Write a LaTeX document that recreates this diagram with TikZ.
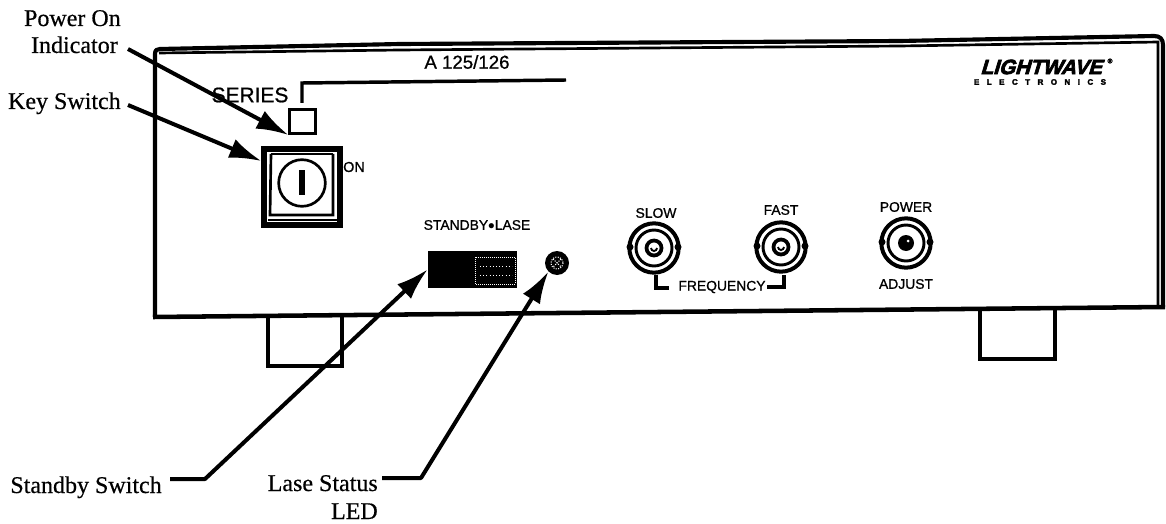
\documentclass[tikz,border=0pt]{standalone}
\usepackage{fontspec}
\setmainfont[FakeBold=0.5]{Liberation Serif}
\setsansfont[FakeBold=0.9]{Liberation Sans}
\newfontfamily\logofont[FakeBold=3.5,FakeSlant=0.3]{Liberation Sans Bold}
\newfontfamily\logosub[FakeBold=3]{Liberation Sans Bold}
\usetikzlibrary{arrows.meta}
\tikzset{
  callout/.style={font=\rmfamily\fontsize{18}{20}\selectfont,inner sep=0pt,align=right},
  panel/.style={font=\sffamily\fontsize{10.4}{12}\selectfont,inner sep=0pt},
  leader/.style={line width=3pt,-{Latex[length=24pt,width=15pt]},line join=round},
  heavy/.style={line width=3.1pt,line join=round},
  thin line/.style={line width=2pt},
  footbox/.style={line width=2.6pt},
}
\begin{document}
\begin{tikzpicture}[x=0.75pt,y=-0.75pt]
\useasboundingbox (0,0) rectangle (1166,524);
% feet
\draw[footbox] (268,317) -- (268,366) -- (342,366) -- (342,316);
\draw[footbox] (980,309) -- (980,359) -- (1055,359) -- (1055,308);
% case
\draw[heavy] (155,317) -- (155,54) .. controls (155,50) and (157,49) .. (160,49) -- (400,44) -- (900,41) -- (1154,36) .. controls (1160,36) and (1163,39) .. (1163,45) -- (1163,307);
\draw[line width=3.4pt] (153,317) -- (1165,307);
\draw[thin line] (159,53) -- (400,50) -- (900,46) -- (1158,42) -- (1158,306);
% series
\node[panel,font=\sffamily\fontsize{15.7}{17}\selectfont] (series) at (250,95) {SERIES};
\node[panel,font=\sffamily\fontsize{14}{16}\selectfont] (model) at (467,62) {A 125/126};
\draw[line width=2.6pt] (302,103) -- (302,83) -- (566,80);
\node[draw,line width=2.2pt,minimum width=19pt,minimum height=18pt,inner sep=0pt] (ind) at (302.5,121.5) {};
% key switch
\node[draw,line width=4pt,minimum width=57pt,minimum height=57pt,inner sep=0pt] (key) at (302,187) {};
\draw[line width=2pt] (271,154) -- (270,215) -- (333,215) -- (333,154);
\draw[line width=2pt] (271,154) -- (333,154);
\draw[line width=1pt] (268,220) -- (337,220);
\node[draw,circle,fill=white,line width=2pt,minimum size=35pt,inner sep=0pt] (keyc) at (302,183) {};
\draw[line width=4.4pt] (302,170) -- (302,195);
\node[panel,font=\sffamily\fontsize{10.8}{12}\selectfont] (on) at (354,167) {ON};
% standby
\node[panel] (stl) at (477,225) {STANDBY$\bullet$LASE};
\node[fill=black,minimum width=67pt,minimum height=28pt,inner sep=0pt] (sw) at (472.5,269.5) {};
\draw[white,line width=0.5pt,densely dotted] (475,257) rectangle (515,284);
\draw[white,line width=0.4pt,dotted] (480,266) -- (512,266) (480,275) -- (512,275);
% LED
\node[circle,fill=black,minimum size=18pt,inner sep=0pt] (led) at (557,263) {};
\draw[white,line width=0.8pt,densely dotted] (557,263) circle (6);
\draw[white,line width=0.8pt,densely dotted] (553,259) -- (561,267) (561,259) -- (553,267);
% connectors
\foreach \n/\cx/\cy/\r in {slow/654/248/24, fast/781/247/24, pwr/906/243/24}{
  \node[draw,circle,line width=3pt,minimum size=37pt,inner sep=0pt] (\n) at (\cx,\cy) {};
  \draw[line width=2.2pt] (\cx,\cy) circle (18);
  \fill (\cx-\r,\cy-1) circle (3.5) (\cx+\r,\cy-1) circle (3.5);
}
\foreach \cx/\cy in {654/248, 781/247}{
  \draw[line width=2.8pt] (\cx,\cy) circle (7.5);
  \draw[line width=1.4pt] (\cx-3,\cy) arc (180:0:3);
}
\node[circle,fill=black,minimum size=12pt,inner sep=0pt] (pwrc) at (906,243) {};
\fill[white] (908,241) circle (1.5);
\node[panel] (lslow) at (656,213) {SLOW};
\node[panel] (lfast) at (781,210) {FAST};
\node[panel] (lpow) at (906,207) {POWER};
\node[panel] (ladj) at (906,284) {ADJUST};
\node[panel] (lfreq) at (722,287) {FREQUENCY};
\draw[line width=2.6pt] (656,275) -- (656,288) -- (669,288);
\draw[line width=2.6pt] (784,275) -- (784,287) -- (767,287);
% logo
\node[inner sep=0pt,font=\logofont\fontsize{15.5}{18}\selectfont] (logo) at (1041,67) {LIGHTWAVE};
\node[inner sep=0pt,font=\logosub\fontsize{5}{6}\selectfont] (reg) at (1110,61) {\textregistered};
\node[inner sep=0pt,font=\logosub\fontsize{6}{6}\selectfont] (logo2) at (1040,82) {E\hspace{5.6pt}L\hspace{5.6pt}E\hspace{5.6pt}C\hspace{5.6pt}T\hspace{5.6pt}R\hspace{5.6pt}O\hspace{5.6pt}N\hspace{5.6pt}I\hspace{5.6pt}C\hspace{5.6pt}S};
% callouts
\node[callout,anchor=base east] (lp) at (121,26) {Power On};
\node[callout,anchor=base east] (lp2) at (118,53) {Indicator};
\node[callout,anchor=base east] (lk) at (121,109) {Key Switch};
\node[callout,anchor=base east] (ls) at (162,493) {Standby Switch};
\node[callout,anchor=base east] (ll) at (378,491) {Lase Status};
\node[callout,anchor=base east] (ll2) at (378,519) {LED};
\coordinate (a1) at (128,49);
\coordinate (a2) at (128,105);
\coordinate (s1) at (170,479);
\coordinate (s2) at (205,479);
\coordinate (t1) at (382,478);
\coordinate (t2) at (421,478);
\draw[leader] (a1) -- (ind.south west);
\draw[leader] (a2) -- (key.west |- 0,161);
\draw[leader] (s1) -- (s2) -- (sw.west);
\draw[leader] (t1) -- (t2) -- (led.south west);
\end{tikzpicture}
\end{document}
